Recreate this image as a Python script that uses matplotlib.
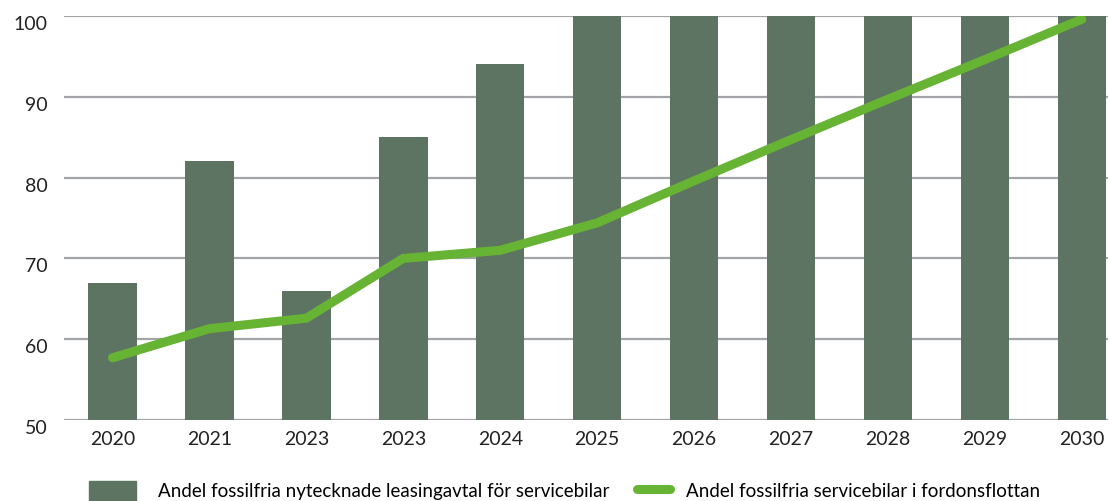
import matplotlib
matplotlib.use('Agg')
import matplotlib.pyplot as plt
import matplotlib.transforms as mtransforms
from matplotlib.patches import Patch
from matplotlib.lines import Line2D

# data
years = ['2020', '2021', '2023', '2023', '2024', '2025', '2026', '2027', '2028', '2029', '2030']
leasing_share = [67, 82, 66, 85, 94, 100, 100, 100, 100, 100, 100]
fleet_share = [57.7, 61.3, 62.6, 70.0, 71.0, 74.4, 79.6, 84.7, 89.7, 94.6, 99.6]
yticks = [50, 60, 70, 80, 90, 100]

label_bars = 'Andel fossilfria nytecknade leasingavtal för servicebilar'
label_line = 'Andel fossilfria servicebilar i fordonsflottan'

bar_color = '#5e7463'
line_color = '#67b334'
grid_color = '#a3a4a8'

plt.rcParams['font.family'] = ['Lato', 'DejaVu Sans']

fig = plt.figure(figsize=(11.09, 5.01), dpi=100)
ax = fig.add_axes([64 / 1109, 1 - 420 / 501, (1108 - 64) / 1109, (420 - 16) / 501])

x = list(range(len(years)))
ax.bar(x, leasing_share, width=0.5, color=bar_color, zorder=2)
ax.plot(x, fleet_share, color=line_color, lw=6.5, solid_capstyle='round',
        solid_joinstyle='miter', zorder=3)

ax.set_xlim(-0.5, 10.27)
ax.set_ylim(50, 100)
ax.set_yticks(yticks)
ax.set_xticks(x)
ax.set_xticklabels(years)
for y in yticks:
    ax.axhline(y, color=grid_color, lw=1.6, zorder=1)

for s in ax.spines.values():
    s.set_visible(False)
ax.tick_params(axis='both', length=0, labelsize=14, colors='#222222')
ax.tick_params(axis='y', pad=12)
ax.tick_params(axis='x', pad=8)

# y labels sit a bit below their gridlines
off = mtransforms.ScaledTranslation(0, -7 / 100, fig.dpi_scale_trans)
for lab in ax.get_yticklabels():
    lab.set_transform(lab.get_transform() + off)

# two legends so each handle gets its own length
leg_y = 1 - 491 / 501
fig.legend([Patch(color=bar_color)], [label_bars], frameon=False,
           loc='center left', bbox_to_anchor=(89 / 1109, leg_y),
           fontsize=13.5, handlelength=2.5, handleheight=1.3, handletextpad=1.2,
           borderpad=0, borderaxespad=0)
fig.legend([Line2D([], [], color=line_color, lw=6.5, solid_capstyle='round')], [label_line],
           frameon=False, loc='center left', bbox_to_anchor=(637 / 1109, leg_y),
           fontsize=13.5, handlelength=1.75, handleheight=1.3, handletextpad=0.85,
           borderpad=0, borderaxespad=0)

fig.savefig('out.png', dpi=100)
